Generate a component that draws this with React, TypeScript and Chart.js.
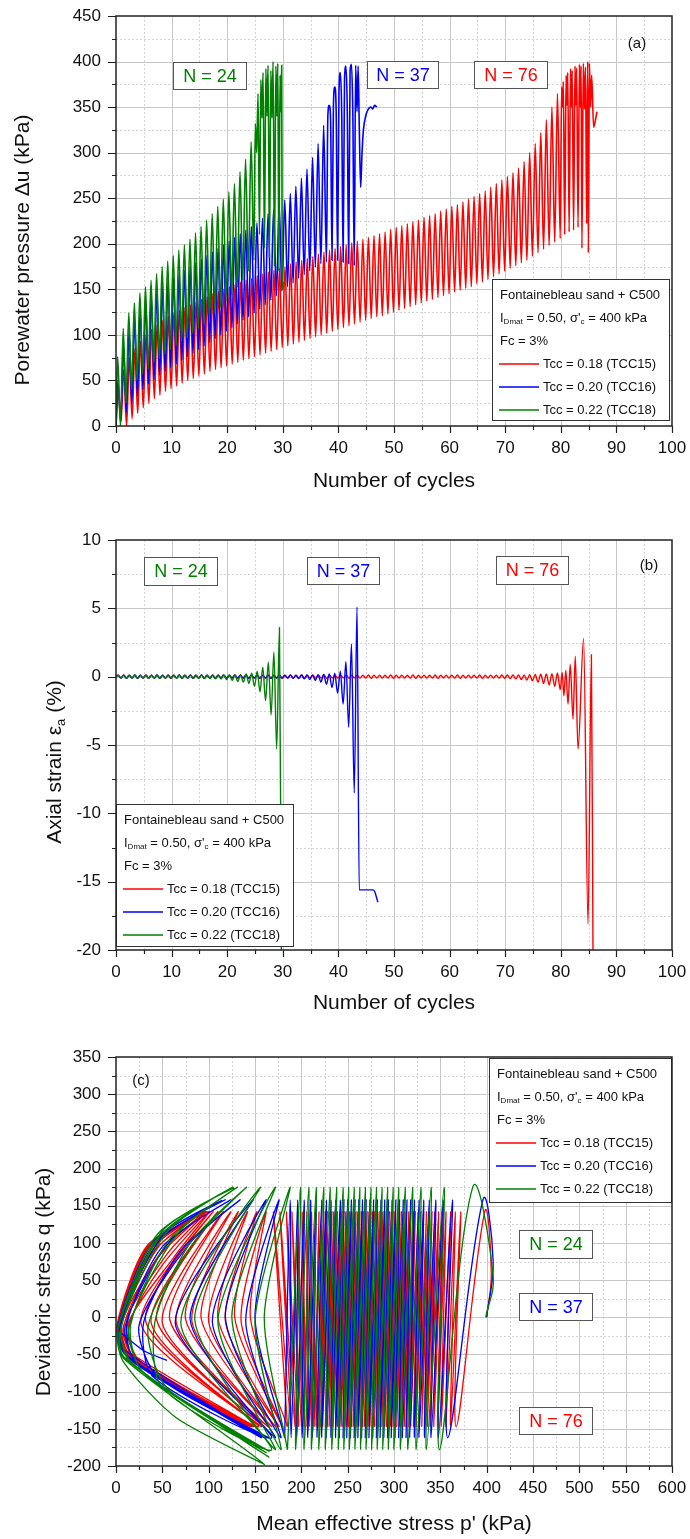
import React, { useEffect, useRef } from "react";
import { Chart, registerables } from "chart.js";

Chart.register(...registerables);

const FONT = '"Liberation Sans", Arial, Helvetica, sans-serif';

// ---------------- axis ticks ----------------
const cycleTicks = [0, 10, 20, 30, 40, 50, 60, 70, 80, 90, 100];
const porePressureTicks = [0, 50, 100, 150, 200, 250, 300, 350, 400, 450];
const strainTicks = [-20, -15, -10, -5, 0, 5, 10];
const meanStressTicks = [0, 50, 100, 150, 200, 250, 300, 350, 400, 450, 500, 550, 600];
const deviatorTicks = [-200, -150, -100, -50, 0, 50, 100, 150, 200, 250, 300, 350];

// ---------------- legend / labels ----------------
const seriesNames = ["Tcc = 0.18 (TCC15)", "Tcc = 0.20 (TCC16)", "Tcc = 0.22 (TCC18)"];
const failureLabels = ["N = 76", "N = 37", "N = 24"];

// ---------------- (a) pore-water pressure, kPa (peaks / troughs per cycle) ----------------
const redUPeak = [38, 62, 75, 85, 93, 100, 106, 111, 116, 120, 124, 127, 130, 133, 136, 139, 142, 145, 148, 150, 153, 155, 158, 160, 162, 165, 167, 169, 171, 173, 175, 178, 180, 182, 184, 186, 189, 191, 193, 195, 197, 199, 201, 203, 205, 207, 209, 211, 213, 216, 218, 220, 222, 224, 226, 229, 231, 233, 236, 238, 241, 243, 246, 249, 252, 255, 258, 262, 266, 270, 274, 278, 283, 290, 300, 310, 322, 336, 350, 365];
const redUTrough = [5, 0, 8, 14, 20, 25, 30, 34, 38, 41, 44, 47, 50, 52, 55, 57, 60, 62, 64, 66, 68, 70, 72, 74, 76, 78, 80, 82, 84, 86, 88, 90, 92, 94, 96, 98, 100, 102, 104, 106, 108, 110, 112, 114, 116, 118, 120, 121, 123, 125, 127, 129, 131, 133, 135, 137, 139, 141, 143, 145, 147, 149, 151, 153, 156, 158, 161, 164, 167, 170, 173, 176, 179, 182, 186, 190, 194, 198, 202, 206];
const redUTail = [[80.15, 372], [80.3, 350], [80.45, 378], [80.7, 210], [80.95, 385], [81.1, 352], [81.25, 388], [81.5, 213], [81.75, 392], [81.9, 350], [82.05, 390], [82.3, 215], [82.55, 395], [82.7, 352], [82.85, 393], [83.1, 218], [83.35, 397], [83.5, 350], [83.65, 395], [83.8, 195], [84.05, 398], [84.25, 348], [84.45, 394], [84.65, 222], [84.85, 400], [84.95, 190], [85.15, 398], [85.35, 350], [85.55, 385], [85.9, 328], [86.2, 335], [86.5, 345]];

const blueUPeak = [50, 88, 105, 117, 127, 135, 142, 148, 153, 158, 163, 167, 171, 175, 179, 183, 187, 191, 195, 199, 203, 207, 211, 215, 219, 223, 228, 233, 238, 243, 248, 255, 263, 272, 282, 295, 310, 330];
const blueUTrough = [5, 15, 25, 33, 40, 46, 51, 56, 60, 64, 68, 72, 76, 80, 84, 88, 92, 96, 100, 104, 108, 112, 116, 120, 124, 128, 133, 138, 143, 148, 153, 157, 162, 166, 170, 174, 178, 180];
const blueUTail = [[38.1, 340], [38.35, 352], [38.6, 335], [38.85, 182], [39.1, 350], [39.35, 372], [39.6, 345], [39.85, 182], [40.1, 365], [40.35, 388], [40.6, 342], [40.85, 180], [41.1, 380], [41.35, 395], [41.6, 345], [41.85, 178], [42.1, 390], [42.35, 397], [42.6, 340], [42.85, 176], [43.1, 396], [43.35, 345], [43.55, 395], [43.75, 330], [44.0, 262], [44.25, 300], [44.5, 325], [44.9, 340], [45.3, 347], [45.8, 350], [46.2, 348], [46.5, 352], [46.9, 350]];

const greenUPeak = [76, 107, 124, 135, 146, 153, 160, 167, 175, 181, 187, 193, 199, 205, 212, 219, 226, 233, 241, 249, 257, 266, 279, 293, 312];
const greenUTrough = [0, 25, 40, 50, 57, 63, 69, 74, 79, 84, 88, 93, 97, 102, 107, 112, 118, 124, 130, 137, 144, 152, 160, 170, 182];
const greenUTail = [[25.05, 332], [25.3, 300], [25.55, 365], [25.8, 210], [26.05, 380], [26.25, 338], [26.45, 388], [26.7, 195], [26.95, 392], [27.15, 340], [27.35, 396], [27.6, 185], [27.85, 390], [28.05, 338], [28.25, 400], [28.5, 175], [28.75, 395], [28.95, 340], [29.1, 398], [29.3, 170], [29.5, 385], [29.65, 345], [29.8, 396], [29.9, 155], [30.0, 150], [30.1, 158]];

// cycle fraction of peak / trough inside each cycle
const redPhaseA = [0.4, 0.9];
const bluePhaseA = [0.35, 0.85];
const greenPhaseA = [0.3, 0.8];

// ---------------- (b) axial strain, % ----------------
const redStrainPos = [0.1, 0.12, 0.1, 0.11, 0.1, 0.12, 0.1, 0.11, 0.1, 0.12, 0.1, 0.11, 0.1, 0.12, 0.1, 0.11, 0.1, 0.12, 0.1, 0.11, 0.1, 0.12, 0.1, 0.11, 0.1, 0.12, 0.1, 0.11, 0.1, 0.12, 0.1, 0.11, 0.1, 0.12, 0.1, 0.11, 0.1, 0.12, 0.1, 0.11, 0.1, 0.12, 0.1, 0.11, 0.1, 0.12, 0.1, 0.11, 0.1, 0.12, 0.1, 0.11, 0.1, 0.12, 0.1, 0.11, 0.1, 0.12, 0.1, 0.11, 0.1, 0.12, 0.1, 0.11, 0.1, 0.12, 0.1, 0.11, 0.1, 0.12, 0.12, 0.12, 0.13, 0.13, 0.15, 0.16, 0.18, 0.2, 0.22, 0.27];
const redStrainNeg = [-0.1, -0.12, -0.1, -0.11, -0.1, -0.12, -0.1, -0.11, -0.1, -0.12, -0.1, -0.11, -0.1, -0.12, -0.1, -0.11, -0.1, -0.12, -0.1, -0.11, -0.1, -0.12, -0.1, -0.11, -0.1, -0.12, -0.1, -0.11, -0.1, -0.12, -0.1, -0.11, -0.1, -0.12, -0.1, -0.11, -0.1, -0.12, -0.1, -0.11, -0.1, -0.12, -0.1, -0.11, -0.1, -0.12, -0.1, -0.11, -0.1, -0.12, -0.1, -0.11, -0.1, -0.12, -0.1, -0.11, -0.1, -0.12, -0.1, -0.11, -0.1, -0.12, -0.1, -0.11, -0.1, -0.12, -0.1, -0.11, -0.1, -0.12, -0.14, -0.16, -0.2, -0.25, -0.3, -0.4, -0.5, -0.6, -0.7, -0.95];
const redStrainTail = [[80.25, 0.3], [80.55, -1.4], [80.9, 0.45], [81.3, -2.0], [81.7, 0.9], [82.2, -3.1], [82.6, 1.5], [83.1, -5.3], [84.1, 2.8], [84.9, -18.1], [85.5, 1.6], [85.8, -21]];

const blueStrainPos = [0.1, 0.11, 0.1, 0.12, 0.1, 0.11, 0.1, 0.12, 0.1, 0.11, 0.1, 0.12, 0.1, 0.11, 0.1, 0.12, 0.1, 0.11, 0.1, 0.12, 0.1, 0.11, 0.1, 0.12, 0.1, 0.11, 0.1, 0.12, 0.1, 0.11, 0.1, 0.12, 0.11, 0.12, 0.12, 0.13, 0.14, 0.16, 0.2, 0.25, 0.4, 1.1, 2.4, 5.1];
const blueStrainNeg = [-0.1, -0.11, -0.1, -0.12, -0.1, -0.11, -0.1, -0.12, -0.1, -0.11, -0.1, -0.12, -0.1, -0.11, -0.1, -0.12, -0.1, -0.11, -0.1, -0.12, -0.1, -0.11, -0.1, -0.12, -0.1, -0.11, -0.1, -0.12, -0.1, -0.11, -0.11, -0.12, -0.13, -0.15, -0.2, -0.28, -0.4, -0.55, -0.8, -1.2, -2.0, -3.7, -8.5];
const blueStrainTail = [[43.75, -15.6], [46.2, -15.6], [46.5, -15.7], [47.1, -16.5]];

const greenStrainPos = [0.1, 0.11, 0.1, 0.12, 0.1, 0.11, 0.1, 0.12, 0.1, 0.11, 0.1, 0.12, 0.1, 0.11, 0.1, 0.12, 0.1, 0.11, 0.12, 0.12, 0.12, 0.13, 0.15, 0.2, 0.25, 0.4, 0.7, 1.05, 1.8, 3.6];
const greenStrainNeg = [-0.1, -0.11, -0.1, -0.12, -0.1, -0.11, -0.1, -0.12, -0.1, -0.11, -0.1, -0.12, -0.11, -0.12, -0.12, -0.13, -0.14, -0.15, -0.18, -0.22, -0.28, -0.35, -0.4, -0.5, -0.7, -1.1, -1.75, -2.8, -5.3];
const greenStrainTail = [[29.75, -21]];

const redPhaseB = [0.4, 0.9];
const bluePhaseB = [0.35, 0.85];
const greenPhaseB = [0.4, 0.9];

// ---------------- (c) stress path: p' (kPa) at q peaks / troughs per cycle ----------------
const redQLimits = [142, -147];
const blueQLimits = [158, -162];
const greenQLimits = [175, -178];

const redPathStart = [[400, 0], [405, 60]];
const redTopP = [398, 372, 366, 361, 356, 352, 348, 344, 341, 338, 335, 332, 329, 326, 323, 321, 318, 316, 313, 311, 308, 306, 304, 301, 299, 297, 295, 292, 290, 288, 286, 284, 282, 279, 277, 275, 273, 271, 269, 267, 265, 263, 261, 259, 256, 254, 252, 250, 248, 246, 244, 242, 239, 237, 235, 233, 231, 228, 226, 224, 219, 215, 211, 206, 201, 196, 190, 184, 177, 170];
const redBotP = [367, 361, 356, 351, 347, 343, 339, 336, 333, 330, 327, 324, 321, 318, 316, 313, 311, 308, 306, 303, 301, 299, 296, 294, 292, 290, 287, 285, 283, 281, 279, 277, 274, 272, 270, 268, 266, 264, 262, 260, 258, 256, 254, 251, 249, 247, 245, 243, 241, 239, 237, 234, 232, 230, 228, 226, 223, 221, 219, 216, 214, 211, 209, 206, 203, 200, 197, 193, 189, 185];
const redPathTail = [
  [145, 0], [162, 142], [135, -5], [180, -147],
  [128, 0], [152, 142], [118, -5], [176, -147],
  [110, -1], [142, 142], [100, -6], [172, -147],
  [92, -2], [132, 142], [82, -6], [168, -147],
  [75, -2], [124, 142], [65, -7], [164, -147],
  [58, -3], [116, 142], [50, -8], [160, -147],
  [44, -4], [110, 142], [38, -8], [157, -147],
  [32, -5], [105, 142], [27, -9], [154, -147],
  [25, -60], [14, -10], [50, 70], [101, 142], [62, 80], [12, -12], [28, -62], [151, -147],
  [20, -55], [9, -9], [45, 80], [98, 142], [55, 85], [8, -12], [22, -60], [148, -147],
  [16, -52], [6, -8], [40, 88], [96, 142], [50, 90], [5, -12], [18, -58], [145, -147],
  [13, -50], [4, -8], [38, 92], [95, 142], [46, 95], [4, -12], [15, -55], [142, -147],
  [11, -48], [3, -9], [36, 95], [97, 142], [44, 98], [3, -13], [13, -52], [140, -147],
  [10, -46], [2, -10], [35, 96], [96, 142], [42, 99], [2, -13], [12, -50], [146, -147],
  [9, -45], [1, -10], [34, 97], [100, 142], [40, 100], [1, -14], [11, -50], [138, -147],
  [8, -44], [1, -10], [35, 97], [98, 141], [40, 100], [1, -14], [10, -48], [150, -147],
  [6, -40], [2, -12],
];

const bluePathStart = [[400, 0], [407, 75]];
const blueTopP = [396, 363, 353, 345, 338, 332, 327, 322, 318, 314, 310, 306, 302, 298, 294, 290, 286, 282, 278, 274, 270, 266, 262, 258, 254, 250, 246, 242, 237, 232, 227, 222, 216, 210, 203, 196, 188];
const blueBotP = [358, 348, 340, 333, 327, 322, 317, 313, 309, 305, 301, 297, 293, 289, 285, 281, 277, 273, 269, 265, 261, 257, 253, 249, 245, 241, 237, 232, 227, 222, 217, 212, 207, 201, 195, 189, 182];
const bluePathTail = [
  [150, 0], [176, 158], [140, -5], [178, -162],
  [118, 0], [162, 158], [104, -6], [172, -162],
  [80, -3], [148, 158], [64, -8], [168, -162],
  [40, -80], [30, -6], [70, 90], [134, 158], [80, 100], [25, -10], [45, -80], [165, -162],
  [22, -62], [12, -8], [50, 95], [124, 158], [58, 102], [10, -12], [25, -65], [162, -162],
  [14, -55], [5, -10], [42, 100], [118, 158], [48, 105], [4, -14], [16, -58], [160, -162],
  [10, -50], [2, -12], [40, 102], [114, 157], [45, 106], [2, -15], [12, -52], [157, -162],
  [10, -45], [3, -20], [30, -45], [55, -58],
];

const greenPathStart = [[399, 0], [407, 55]];
const greenTopP = [385, 354, 340, 329, 320, 312, 305, 299, 293, 287, 281, 275, 269, 263, 257, 251, 245, 238, 231, 224, 216, 208, 199];
const greenBotP = [349, 335, 324, 315, 307, 300, 294, 288, 282, 276, 270, 264, 258, 252, 246, 240, 233, 226, 219, 211, 203, 194, 185];
const greenPathTail = [
  [160, 0], [188, 175], [150, -5], [178, -178],
  [125, 0], [172, 175], [110, -6], [172, -178],
  [85, -3], [156, 175], [70, -8], [168, -178],
  [50, -95], [42, -6], [80, 100], [141, 175], [90, 110], [35, -10], [55, -95], [165, -180],
  [28, -72], [16, -9], [58, 105], [131, 175], [66, 112], [14, -13], [30, -75], [162, -182],
  [15, -60], [6, -12], [48, 110], [126, 175], [55, 115], [5, -15], [18, -62], [165, -188],
  [10, -55], [2, -14], [45, 112], [127, 174], [50, 116], [1, -18], [8, -60], [65, -135], [160, -198],
  [8, -55], [3, -20],
];

// ---------------- styles ----------------
const RED = "#ff0000";
const BLUE = "#0000ff";
const GREEN = "#008000";
const seriesColors = [RED, BLUE, GREEN];

type Pt = { x: number; y: number };
type Rich = Array<[string, boolean]>;

function cycleSeries(start: number, peaks: number[], troughs: number[], phase: number[], tail: number[][]): Pt[] {
  const pts: Pt[] = [{ x: 0, y: start }];
  const n = Math.max(peaks.length, troughs.length);
  for (let i = 0; i < n; i++) {
    if (i < peaks.length) pts.push({ x: i + phase[0], y: peaks[i] });
    if (i < troughs.length) pts.push({ x: i + phase[1], y: troughs[i] });
  }
  for (const [x, y] of tail) pts.push({ x, y });
  return pts;
}

function loopBand(start: number[][], tops: number[], bots: number[], q: number[]): Pt[] {
  const pts: Pt[] = start.map(([x, y]) => ({ x, y }));
  for (let i = 0; i < tops.length; i++) {
    pts.push({ x: tops[i], y: q[0] });
    pts.push({ x: bots[i], y: q[1] });
  }
  return pts;
}

function loopTail(band: Pt[], tail: number[][]): Pt[] {
  return [band[band.length - 1], ...tail.map(([x, y]) => ({ x, y }))];
}

function ds(data: Pt[], color: string, tension: number, mono: boolean, width: number) {
  return {
    data,
    showLine: true,
    borderColor: color,
    backgroundColor: color,
    borderWidth: width,
    pointRadius: 0,
    pointHoverRadius: 0,
    tension,
    cubicInterpolationMode: mono ? "monotone" : "default",
    fill: false,
  };
}

const legendHeader: Rich[] = [
  [["Fontainebleau sand + C500", false]],
  [["I", false], ["Dmat", true], [" = 0.50, σ'", false], ["c", true], [" = 400 kPa", false]],
  [["Fc = 3%", false]],
];
const legendRows = [16, 39, 62, 85, 108, 131];

function richWidth(ctx: CanvasRenderingContext2D, parts: Rich, size: number) {
  let w = 0;
  for (const [t, sub] of parts) {
    ctx.font = `${sub ? Math.round(size * 0.6) : size}px ${FONT}`;
    w += ctx.measureText(t).width;
  }
  return w;
}

function drawRich(ctx: CanvasRenderingContext2D, parts: Rich, x: number, y: number, size: number, center: boolean) {
  let cx = center ? x - richWidth(ctx, parts, size) / 2 : x;
  ctx.textAlign = "left";
  ctx.textBaseline = "middle";
  for (const [t, sub] of parts) {
    const s = sub ? Math.round(size * 0.6) : size;
    ctx.font = `${s}px ${FONT}`;
    ctx.fillText(t, cx, sub ? y + size * 0.32 : y);
    cx += ctx.measureText(t).width;
  }
}

function mids(t: number[]) {
  const out: number[] = [];
  for (let i = 0; i < t.length - 1; i++) out.push((t[i] + t[i + 1]) / 2);
  return out;
}

interface NBox { text: string; color: string; x: number; y: number; w: number; h: number }
interface Deco {
  xTicks: number[];
  yTicks: number[];
  xTitle: Rich;
  yTitle: Rich;
  xTitlePos: number[];
  yTitlePos: number[];
  panel: string;
  panelPos: number[];
  legend: number[];
  boxes: NBox[];
}

const decoPlugin = {
  id: "deco",
  beforeDatasetsDraw(chart: any, _a: any, o: Deco) {
    const { ctx, chartArea: ca } = chart;
    const xs = chart.scales.x;
    const ys = chart.scales.y;
    ctx.save();
    ctx.lineWidth = 1;
    ctx.strokeStyle = "#d2d2d2";
    ctx.setLineDash([2, 2]);
    ctx.beginPath();
    for (const v of mids(o.xTicks)) {
      const p = Math.round(xs.getPixelForValue(v)) + 0.5;
      ctx.moveTo(p, ca.top);
      ctx.lineTo(p, ca.bottom);
    }
    for (const v of mids(o.yTicks)) {
      const p = Math.round(ys.getPixelForValue(v)) + 0.5;
      ctx.moveTo(ca.left, p);
      ctx.lineTo(ca.right, p);
    }
    ctx.stroke();
    ctx.setLineDash([]);
    ctx.strokeStyle = "#c8c8c8";
    ctx.beginPath();
    for (const v of o.xTicks.slice(1, -1)) {
      const p = Math.round(xs.getPixelForValue(v)) + 0.5;
      ctx.moveTo(p, ca.top);
      ctx.lineTo(p, ca.bottom);
    }
    for (const v of o.yTicks.slice(1, -1)) {
      const p = Math.round(ys.getPixelForValue(v)) + 0.5;
      ctx.moveTo(ca.left, p);
      ctx.lineTo(ca.right, p);
    }
    ctx.stroke();
    ctx.restore();
  },
  afterDatasetsDraw(chart: any, _a: any, o: Deco) {
    const { ctx, chartArea: ca } = chart;
    const xs = chart.scales.x;
    const ys = chart.scales.y;
    ctx.save();
    // legend box
    const [lx, ly, lw, lh] = o.legend;
    ctx.fillStyle = "#ffffff";
    ctx.fillRect(lx, ly, lw, lh);
    ctx.strokeStyle = "#333";
    ctx.lineWidth = 1;
    ctx.strokeRect(lx + 0.5, ly + 0.5, lw - 1, lh - 1);
    ctx.fillStyle = "#111";
    legendHeader.forEach((parts, i) => drawRich(ctx, parts, lx + 8, ly + legendRows[i], 13, false));
    seriesNames.forEach((name, i) => {
      const yy = ly + legendRows[i + 3];
      ctx.strokeStyle = seriesColors[i];
      ctx.lineWidth = 1.5;
      ctx.beginPath();
      ctx.moveTo(lx + 7, yy);
      ctx.lineTo(lx + 47, yy);
      ctx.stroke();
      ctx.fillStyle = "#111";
      drawRich(ctx, [[name, false]], lx + 51, yy, 13, false);
    });
    // N boxes
    for (const b of o.boxes) {
      ctx.fillStyle = "#fff";
      ctx.fillRect(b.x, b.y, b.w, b.h);
      ctx.strokeStyle = "#555";
      ctx.lineWidth = 1;
      ctx.strokeRect(b.x + 0.5, b.y + 0.5, b.w - 1, b.h - 1);
      ctx.fillStyle = b.color;
      ctx.font = `18px ${FONT}`;
      ctx.textAlign = "center";
      ctx.textBaseline = "middle";
      ctx.fillText(b.text, b.x + b.w / 2, b.y + b.h / 2 + 1);
    }
    // panel label
    ctx.fillStyle = "#111";
    ctx.font = `15px ${FONT}`;
    ctx.textAlign = "center";
    ctx.textBaseline = "middle";
    ctx.fillText(o.panel, o.panelPos[0], o.panelPos[1]);
    // frame
    ctx.strokeStyle = "#222";
    ctx.lineWidth = 1.5;
    ctx.strokeRect(ca.left, ca.top, ca.right - ca.left, ca.bottom - ca.top);
    // tick marks
    ctx.lineWidth = 1.2;
    ctx.beginPath();
    for (const v of o.xTicks) {
      const p = Math.round(xs.getPixelForValue(v)) + 0.5;
      ctx.moveTo(p, ca.bottom);
      ctx.lineTo(p, ca.bottom + 7);
    }
    for (const v of mids(o.xTicks)) {
      const p = Math.round(xs.getPixelForValue(v)) + 0.5;
      ctx.moveTo(p, ca.bottom);
      ctx.lineTo(p, ca.bottom + 4);
    }
    for (const v of o.yTicks) {
      const p = Math.round(ys.getPixelForValue(v)) + 0.5;
      ctx.moveTo(ca.left - 8, p);
      ctx.lineTo(ca.left, p);
    }
    for (const v of mids(o.yTicks)) {
      const p = Math.round(ys.getPixelForValue(v)) + 0.5;
      ctx.moveTo(ca.left - 4, p);
      ctx.lineTo(ca.left, p);
    }
    ctx.stroke();
    // titles
    ctx.fillStyle = "#111";
    drawRich(ctx, o.xTitle, o.xTitlePos[0], o.xTitlePos[1], 21, true);
    ctx.save();
    ctx.translate(o.yTitlePos[0], o.yTitlePos[1]);
    ctx.rotate(-Math.PI / 2);
    drawRich(ctx, o.yTitle, 0, 0, 21, true);
    ctx.restore();
    ctx.restore();
  },
};

function makeConfig(datasets: any[], xr: number[], yr: number[], xTicks: number[], yTicks: number[], topPad: number, xH: number, deco: Deco) {
  const tickFont = { family: FONT, size: 17 };
  return {
    type: "scatter" as const,
    data: { datasets },
    options: {
      animation: false as const,
      responsive: false,
      events: [] as any[],
      layout: { padding: { left: 0, right: 18, top: topPad, bottom: 0 } },
      plugins: { legend: { display: false }, tooltip: { enabled: false }, deco },
      scales: {
        x: {
          type: "linear" as const,
          min: xr[0],
          max: xr[1],
          afterBuildTicks: (s: any) => { s.ticks = xTicks.map((v) => ({ value: v })); },
          afterFit: (s: any) => {
            s.height = xH;
            s.paddingLeft = 0;
            s.paddingRight = 0;
            s.paddingTop = 0;
            s.paddingBottom = 0;
          },
          grid: { display: false, drawTicks: false },
          border: { display: false },
          ticks: { font: tickFont, color: "#111", padding: 12, maxRotation: 0, autoSkip: false },
        },
        y: {
          type: "linear" as const,
          min: yr[0],
          max: yr[1],
          afterBuildTicks: (s: any) => { s.ticks = yTicks.map((v) => ({ value: v })); },
          afterFit: (s: any) => {
            s.width = 116;
            s.paddingLeft = 0;
            s.paddingRight = 0;
            s.paddingTop = 0;
            s.paddingBottom = 0;
          },
          grid: { display: false, drawTicks: false },
          border: { display: false },
          ticks: { font: tickFont, color: "#111", padding: 15, autoSkip: false },
        },
      },
    },
    plugins: [decoPlugin],
  };
}

export default function App() {
  const refA = useRef<HTMLCanvasElement>(null);
  const refB = useRef<HTMLCanvasElement>(null);
  const refC = useRef<HTMLCanvasElement>(null);

  useEffect(() => {
    const numCycles: Rich = [["Number of cycles", false]];

    const cfgA = makeConfig(
      [
        ds(cycleSeries(0, greenUPeak, greenUTrough, greenPhaseA, greenUTail), GREEN, 0.3, true, 1.6),
        ds(cycleSeries(0, blueUPeak, blueUTrough, bluePhaseA, blueUTail), BLUE, 0.3, true, 1.6),
        ds(cycleSeries(0, redUPeak, redUTrough, redPhaseA, redUTail), RED, 0.3, true, 1.6),
      ],
      [0, 100], [0, 450], cycleTicks, porePressureTicks, 16, 84,
      {
        xTicks: cycleTicks, yTicks: porePressureTicks,
        xTitle: numCycles, yTitle: [["Porewater pressure Δu (kPa)", false]],
        xTitlePos: [394, 481], yTitlePos: [23, 250],
        panel: "(a)", panelPos: [637, 44],
        legend: [492, 279, 178, 142],
        boxes: [
          { text: failureLabels[2], color: GREEN, x: 173, y: 62, w: 74, h: 28 },
          { text: failureLabels[1], color: BLUE, x: 367, y: 61, w: 72, h: 28 },
          { text: failureLabels[0], color: RED, x: 474, y: 61, w: 74, h: 28 },
        ],
      }
    );

    const cfgB = makeConfig(
      [
        ds(cycleSeries(0, greenStrainPos, greenStrainNeg, greenPhaseB, greenStrainTail), GREEN, 0.3, true, 1.4),
        ds(cycleSeries(0, blueStrainPos, blueStrainNeg, bluePhaseB, blueStrainTail), BLUE, 0.3, true, 1.4),
        ds(cycleSeries(0, redStrainPos, redStrainNeg, redPhaseB, redStrainTail), RED, 0.3, true, 1.4),
      ],
      [0, 100], [-20, 10], cycleTicks, strainTicks, 30, 80,
      {
        xTicks: cycleTicks, yTicks: strainTicks,
        xTitle: numCycles, yTitle: [["Axial strain ε", false], ["a", true], [" (%)", false]],
        xTitlePos: [394, 493], yTitlePos: [55, 252],
        panel: "(b)", panelPos: [649, 56],
        legend: [116, 294, 178, 143],
        boxes: [
          { text: failureLabels[2], color: GREEN, x: 144, y: 47, w: 74, h: 29 },
          { text: failureLabels[1], color: BLUE, x: 307, y: 47, w: 73, h: 28 },
          { text: failureLabels[0], color: RED, x: 496, y: 46, w: 73, h: 29 },
        ],
      }
    );

    const greenBand = loopBand(greenPathStart, greenTopP, greenBotP, greenQLimits);
    const blueBand = loopBand(bluePathStart, blueTopP, blueBotP, blueQLimits);
    const redBand = loopBand(redPathStart, redTopP, redBotP, redQLimits);

    const cfgC = makeConfig(
      [
        ds(greenBand, GREEN, 0.4, false, 1.3),
        ds(loopTail(greenBand, greenPathTail), GREEN, 0.25, false, 1.3),
        ds(blueBand, BLUE, 0.4, false, 1.3),
        ds(loopTail(blueBand, bluePathTail), BLUE, 0.25, false, 1.3),
        ds(redBand, RED, 0.4, false, 1.3),
        ds(loopTail(redBand, redPathTail), RED, 0.25, false, 1.3),
      ],
      [0, 600], [-200, 350], meanStressTicks, deviatorTicks, 27, 73,
      {
        xTicks: meanStressTicks, yTicks: deviatorTicks,
        xTitle: [["Mean effective stress p' (kPa)", false]], yTitle: [["Deviatoric stress q (kPa)", false]],
        xTitlePos: [394, 494], yTitlePos: [44, 252],
        panel: "(c)", panelPos: [141, 51],
        legend: [489, 28, 183, 145],
        boxes: [
          { text: failureLabels[2], color: GREEN, x: 519, y: 200, w: 74, h: 29 },
          { text: failureLabels[1], color: BLUE, x: 519, y: 263, w: 74, h: 28 },
          { text: failureLabels[0], color: RED, x: 519, y: 377, w: 74, h: 28 },
        ],
      }
    );

    const charts = [
      new Chart(refA.current as HTMLCanvasElement, cfgA as any),
      new Chart(refB.current as HTMLCanvasElement, cfgB as any),
      new Chart(refC.current as HTMLCanvasElement, cfgC as any),
    ];
    return () => charts.forEach((c) => c.destroy());
  }, []);

  return (
    <div style={{ position: "absolute", left: 0, top: 0, width: 690, height: 1539, background: "#fff" }}>
      <canvas ref={refA} width={690} height={510} style={{ display: "block", width: 690, height: 510 }} />
      <canvas ref={refB} width={690} height={520} style={{ display: "block", width: 690, height: 520 }} />
      <canvas ref={refC} width={690} height={509} style={{ display: "block", width: 690, height: 509 }} />
    </div>
  );
}
